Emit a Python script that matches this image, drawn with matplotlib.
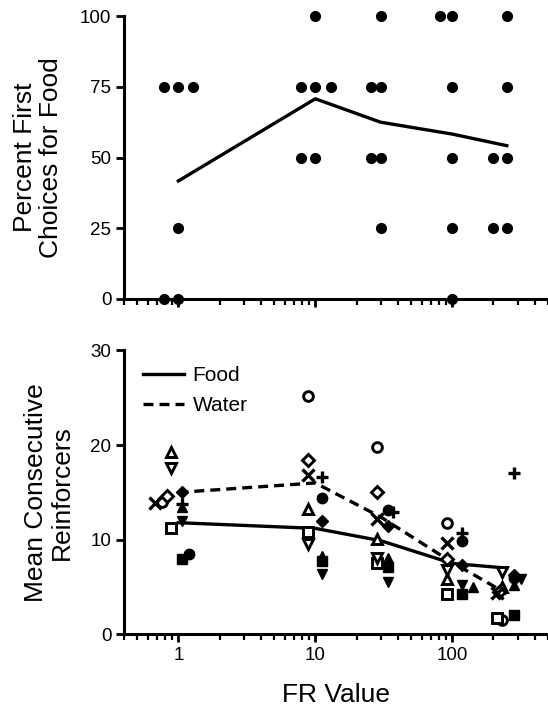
import matplotlib
matplotlib.use("Agg")
from matplotlib import pyplot as plt
from matplotlib.ticker import LogLocator, NullFormatter

plt.rcParams['font.family'] = ['Liberation Sans', 'DejaVu Sans']

# ---- data ----
fr = [1, 10, 30, 100, 250]

# top panel: individual subjects (x is FR with small jitter as drawn)
top_x = [0.78, 1, 1.29, 1, 0.78, 1,
         10, 7.9, 10, 13, 7.9, 10,
         30, 25.5, 30, 25.5, 30, 30,
         81, 100, 100, 100, 100, 100,
         250, 250, 200, 250, 200, 250]
top_pct = [75, 75, 75, 25, 0, 0,
           100, 75, 75, 75, 50, 50,
           100, 75, 75, 50, 50, 25,
           100, 100, 75, 50, 25, 0,
           100, 75, 50, 50, 25, 25]
top_mean = [41.7, 70.8, 62.5, 58.3, 54.2]

# bottom panel: group means
food_mean = [11.8, 11.2, 9.9, 7.5, 7.0]
water_mean = [15.0, 16.0, 12.4, 7.6, 4.3]

# bottom panel: water (open symbols), x positions as drawn
w_circle_x = [0.76, 8.8, 28, 92, 232]
w_circle = [14.0, 25.2, 19.8, 11.8, 1.5]
w_square_x = [0.89, 8.8, 28, 92, 213]
w_square = [11.2, 10.8, 7.5, 4.3, 1.7]
w_tri_up_x = [0.89, 8.8, 28, 92, 232]
w_tri_up = [19.3, 13.3, 10.1, 5.9, 5.0]
w_tri_dn_x = [0.89, 8.8, 28, 92, 232]
w_tri_dn = [17.6, 9.6, 8.1, 6.8, 6.6]
w_diam_x = [0.83, 8.8, 28, 92, 220]
w_diam = [14.6, 18.4, 15.0, 8.0, 4.5]
w_cross_x = [0.68, 8.8, 28, 92, 213]
w_cross = [13.9, 16.8, 12.2, 9.7, 4.4]

# bottom panel: food (filled symbols)
f_circle_x = [1.2, 11.2, 34, 118, 280]
f_circle = [8.5, 14.4, 13.1, 9.9, 6.0]
f_square_x = [1.07, 11.2, 34, 118, 280]
f_square = [8.0, 7.8, 7.1, 4.3, 2.0]
f_tri_up_x = [1.07, 11.2, 34, 142, 280]
f_tri_up = [13.5, 8.3, 8.1, 5.0, 5.2]
f_tri_dn_x = [1.07, 11.2, 34, 118, 315]
f_tri_dn = [12.0, 6.4, 5.5, 5.2, 5.8]
f_diam_x = [1.07, 11.2, 34, 118, 280]
f_diam = [15.0, 12.0, 11.5, 7.3, 6.3]
f_plus_x = [1.07, 11.2, 37, 118, 280]
f_plus = [13.8, 16.6, 12.9, 10.7, 17.0]

# ---- figure ----
fig = plt.figure(figsize=(5.48, 7.08), dpi=100)
ax1 = fig.add_axes([0.226, 0.578, 0.774, 0.399])
ax2 = fig.add_axes([0.226, 0.104, 0.774, 0.401])

def style(ax):
    ax.set_xscale('log')
    ax.set_xlim(0.4, 500)
    for s in ['top', 'right']:
        ax.spines[s].set_visible(False)
    for s in ['left', 'bottom']:
        ax.spines[s].set_linewidth(2.2)
    ax.xaxis.set_minor_locator(LogLocator(base=10, subs=range(2, 10)))
    ax.xaxis.set_minor_formatter(NullFormatter())
    ax.tick_params(which='major', length=6, width=2, labelsize=13.5, pad=3)
    ax.tick_params(which='minor', length=4, width=1.6)

style(ax1)
ax1.set_ylim(0, 100)
ax1.set_yticks([0, 25, 50, 75, 100])
ax1.set_xticks([1, 10, 100])
ax1.set_xticklabels([])
ax1.plot(top_x, top_pct, 'o', color='black', ms=7, clip_on=False, zorder=3)
ax1.plot(fr, top_mean, '-', color='black', lw=2.4)
ax1.set_ylabel('Percent First\nChoices for Food', fontsize=19, labelpad=12,
               linespacing=1.1)

style(ax2)
ax2.set_ylim(0, 30)
ax2.set_yticks([0, 10, 20, 30])
ax2.set_xticks([1, 10, 100])
ax2.set_xticklabels(['1', '10', '100'])

op = dict(ls='none', mfc='white', mec='black', mew=2.1, ms=7, zorder=3)
fi = dict(ls='none', color='black', ms=7.5, zorder=3)
ax2.plot(w_circle_x, w_circle, marker='o', **op)
ax2.plot(w_square_x, w_square, marker='s', **op)
ax2.plot(w_tri_up_x, w_tri_up, marker='^', **op)
ax2.plot(w_tri_dn_x, w_tri_dn, marker='v', **op)
ax2.plot(w_diam_x, w_diam, marker='D', **dict(op, ms=6))
ax2.plot(w_cross_x, w_cross, marker='x', ls='none', color='black', ms=8, mew=2.4, zorder=3)
ax2.plot(f_circle_x, f_circle, marker='o', **fi)
ax2.plot(f_square_x, f_square, marker='s', **fi)
ax2.plot(f_tri_up_x, f_tri_up, marker='^', **fi)
ax2.plot(f_tri_dn_x, f_tri_dn, marker='v', **fi)
ax2.plot(f_diam_x, f_diam, marker='D', **dict(fi, ms=6.5))
ax2.plot(f_plus_x, f_plus, marker='+', ls='none', color='black', ms=9, mew=2.4, zorder=3)

ax2.plot(fr, food_mean, '-', color='black', lw=2.4, label='Food')
ax2.plot(fr, water_mean, '--', color='black', lw=2.4, dashes=(3, 1.8), label='Water')
ax2.legend(loc='upper left', frameon=False, fontsize=15, handlelength=2.0,
           handletextpad=0.4, borderaxespad=0.2, labelspacing=0.55,
           bbox_to_anchor=(0.015, 0.99))
ax2.set_ylabel('Mean Consecutive\nReinforcers', fontsize=19, labelpad=12,
               linespacing=1.1)
ax2.set_xlabel('FR Value', fontsize=19, labelpad=14)

plt.savefig('out.png', dpi=100)
